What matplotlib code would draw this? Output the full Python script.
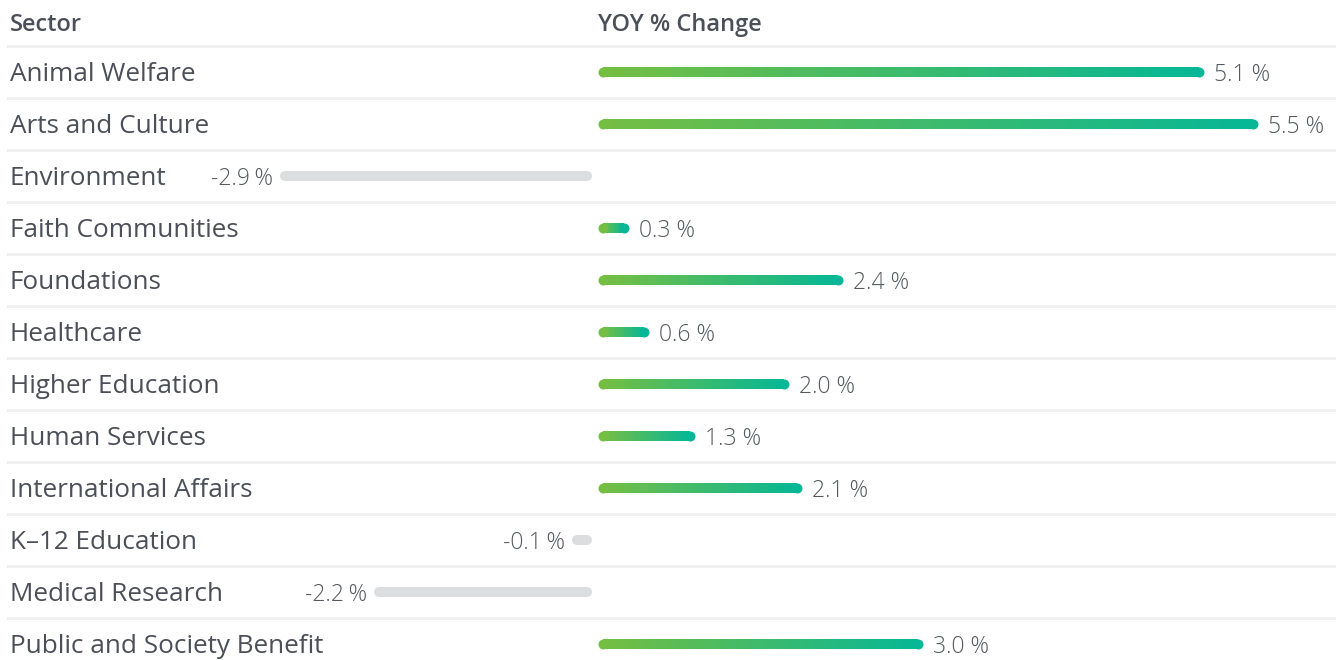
import numpy as np
import matplotlib
matplotlib.use('Agg')
import matplotlib.pyplot as plt
from matplotlib.collections import LineCollection
from matplotlib.colors import to_rgb

sectors = ['Animal Welfare', 'Arts and Culture', 'Environment', 'Faith Communities',
           'Foundations', 'Healthcare', 'Higher Education', 'Human Services',
           'International Affairs', 'K\u201312 Education', 'Medical Research',
           'Public and Society Benefit']
yoy_change = [5.1, 5.5, -2.9, 0.3, 2.4, 0.6, 2.0, 1.3, 2.1, -0.1, -2.2, 3.0]

W, H, DPI = 1336, 660, 100
PT = 72.0 / DPI          # points per pixel
ZERO_PX = 595            # where the bar column starts
GAP = 8                  # px gap between the zero line and the bars
ROW0, ROW_H = 72, 52
TXT_DY = 0.05            # small nudge so text sits on the bar centre line

plt.rcParams['font.family'] = ['Open Sans', 'DejaVu Sans']

# bar length in pixels per |value| (the original chart squeezes small values)
knot_v = np.array([0, 0.1, 0.3, 1.3, 2.0, 20.0])
knot_px = np.array([0, 18, 29, 95, 189, 189 + 134 * 18.0])

def fwd(v):
    v = np.asarray(v, dtype=float)
    return np.sign(v) * np.interp(np.abs(v), knot_v, knot_px)

def inv(p):
    p = np.asarray(p, dtype=float)
    return np.sign(p) * np.interp(np.abs(p), knot_px, knot_v)

fig = plt.figure(figsize=(W / DPI, H / DPI), dpi=DPI)
fig.patch.set_facecolor('white')

n = len(sectors)
ylims = ((H - ROW0) / ROW_H, -ROW0 / ROW_H)

# background axes in pixel x, row y
bg = fig.add_axes([0, 0, 1, 1])
bg.set_xlim(0, W)
bg.set_ylim(*ylims)
bg.axis('off')

text_col = '#4b4f58'
bg.text(10, -0.96 + TXT_DY, 'Sector', fontsize=17, fontweight='semibold', color=text_col, va='center')
bg.text(598, -0.96 + TXT_DY, 'YOY % Change', fontsize=17, fontweight='semibold', color=text_col, va='center')
for k in range(n):
    bg.axhline(k - 0.5, xmin=8 / W, xmax=1, color='#f0f0f0', lw=3 * PT, zorder=0)
    bg.text(10, k + TXT_DY, sectors[k], fontsize=18.8, color=text_col, va='center')

# bar axes
ax = fig.add_axes([0, 0, 1, 1])
ax.patch.set_alpha(0)
ax.set_xscale('function', functions=(fwd, inv))
ax.set_xlim(float(inv(-ZERO_PX)), float(inv(W - ZERO_PX)))
ax.set_ylim(*ylims)
ax.axis('off')

lw = 10 * PT
c_start, c_end = np.array(to_rgb('#74be43')), np.array(to_rgb('#07b795'))
grey = '#dcdddf'
label_col = '#55595f'

for k, v in enumerate(yoy_change):
    start = float(inv(np.sign(v) * GAP))
    if v > 0:
        px = np.linspace(GAP, fwd(v), 60)
        xs = inv(px)
        segs = [[(xs[i], k), (xs[i + 1], k)] for i in range(len(xs) - 1)]
        t = np.linspace(0, 1, len(segs))[:, None]
        cols = c_start * (1 - t) + c_end * t
        ax.add_collection(LineCollection(segs, colors=cols, linewidths=lw, capstyle='butt'))
        ax.scatter([start], [k], s=lw ** 2, color=c_start, marker='o', linewidths=0, zorder=3)
        ax.scatter([v], [k], s=lw ** 2, color=c_end, marker='o', linewidths=0, zorder=3)
        ax.annotate(f'{v:.1f} %', (v, k + TXT_DY), xytext=(15 * PT, 0), textcoords='offset points',
                    fontsize=16.5, fontweight='light', color=label_col, va='center', ha='left')
    else:
        ax.plot([start, v], [k, k], color=grey, lw=lw, solid_capstyle='round')
        ax.annotate(f'{v:.1f}\u2009%', (v, k + TXT_DY), xytext=(-12 * PT, 0), textcoords='offset points',
                    fontsize=16.5, fontweight='light', color=label_col, va='center', ha='right')

fig.savefig('out.png', dpi=DPI, facecolor='white')
